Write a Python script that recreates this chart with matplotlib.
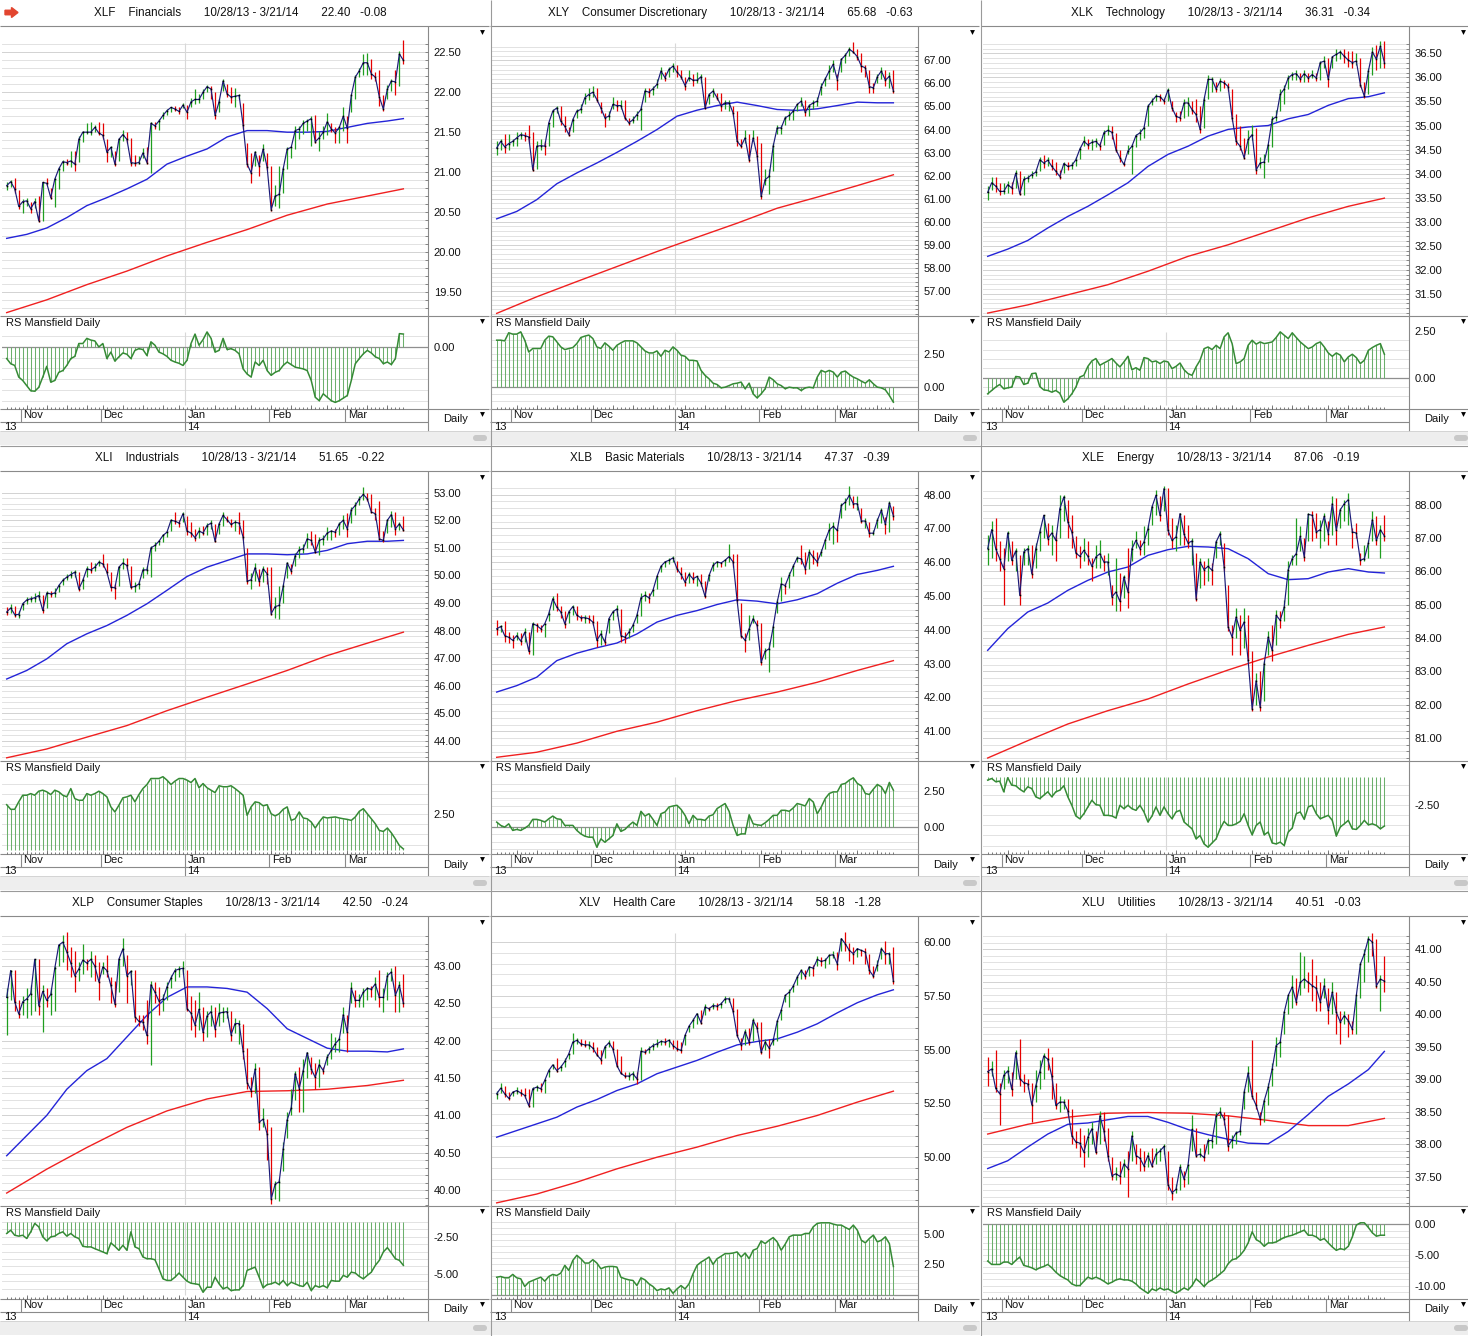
import numpy as np
import pandas as pd
import matplotlib
matplotlib.use("Agg")
import matplotlib.pyplot as plt
from matplotlib.patches import Rectangle, FancyBboxPatch, FancyArrow

plt.rcParams['font.family'] = ['Liberation Sans', 'DejaVu Sans']

# ---------------------------------------------------------------- data
HOLIDAYS = ['2013-11-28', '2013-12-25', '2014-01-01', '2014-01-20', '2014-02-17']
MONTH_LABELS = ['Nov', 'Dec', 'Jan', 'Feb', 'Mar']
YEAR_LABELS = ['13', '14']
MA50_IDX = [0, 5, 10, 15, 20, 25, 30, 35, 40, 45, 50, 55, 60, 65, 70, 75, 80, 85, 90, 95, 99]
MA200_IDX = [0, 10, 20, 30, 40, 50, 60, 70, 80, 90, 99]

# XLF
XLF_CLOSE = [20.83, 20.88, 20.79, 20.57, 20.63, 20.64, 20.54, 20.63, 20.39, 20.87,
             20.86, 20.68, 20.91, 21.04, 21.13, 21.12, 21.14, 21.10, 21.41, 21.50,
             21.50, 21.50, 21.56, 21.49, 21.46, 21.25, 21.31, 21.10, 21.41, 21.47,
             21.41, 21.12, 21.11, 21.12, 21.24, 21.12, 21.61, 21.58, 21.64, 21.71,
             21.77, 21.81, 21.79, 21.76, 21.84, 21.75, 21.88, 21.91, 21.91, 22.00,
             22.07, 22.04, 21.71, 21.88, 22.14, 21.98, 21.94, 21.95, 21.96, 21.59,
             21.10, 20.99, 21.25, 21.08, 21.29, 21.06, 20.53, 20.70, 20.72, 21.04,
             21.29, 21.31, 21.52, 21.54, 21.61, 21.64, 21.67, 21.38, 21.43, 21.50,
             21.63, 21.54, 21.49, 21.56, 21.70, 21.55, 21.96, 22.19, 22.27, 22.37,
             22.37, 22.23, 22.19, 21.94, 21.79, 22.04, 22.14, 22.13, 22.48, 22.40]
XLF_HIGH = [20.88, 20.90, 20.93, 20.78, 20.66, 20.67, 20.62, 20.67, 20.70, 20.88,
            20.92, 20.80, 20.93, 21.06, 21.15, 21.16, 21.26, 21.26, 21.45, 21.52,
            21.61, 21.63, 21.59, 21.63, 21.62, 21.41, 21.33, 21.26, 21.43, 21.53,
            21.50, 21.43, 21.21, 21.20, 21.30, 21.32, 21.63, 21.63, 21.66, 21.75,
            21.79, 21.82, 21.83, 21.81, 21.87, 21.84, 21.93, 22.04, 21.98, 22.04,
            22.09, 22.08, 22.00, 21.92, 22.16, 22.10, 22.07, 22.05, 21.98, 21.86,
            21.37, 21.24, 21.27, 21.22, 21.35, 21.24, 21.08, 20.84, 21.08, 21.06,
            21.32, 21.33, 21.58, 21.58, 21.65, 21.67, 21.70, 21.72, 21.52, 21.58,
            21.74, 21.61, 21.56, 21.58, 21.81, 21.70, 21.98, 22.21, 22.31, 22.48,
            22.49, 22.42, 22.25, 22.28, 21.96, 22.09, 22.16, 22.28, 22.52, 22.65]
XLF_LOW = [20.78, 20.81, 20.74, 20.54, 20.49, 20.58, 20.49, 20.55, 20.37, 20.39,
           20.84, 20.66, 20.56, 20.79, 21.01, 21.09, 21.07, 21.01, 21.13, 21.38,
           21.48, 21.46, 21.50, 21.46, 21.41, 21.13, 21.19, 21.08, 21.14, 21.39,
           21.37, 21.08, 21.08, 21.10, 21.18, 21.10, 20.99, 21.54, 21.53, 21.66,
           21.71, 21.75, 21.76, 21.73, 21.80, 21.66, 21.82, 21.85, 21.86, 21.91,
           22.00, 21.91, 21.66, 21.75, 22.02, 21.94, 21.87, 21.81, 21.92, 21.54,
           21.06, 20.86, 21.08, 20.95, 21.14, 21.03, 20.51, 20.57, 20.55, 20.74,
           21.04, 21.18, 21.29, 21.41, 21.48, 21.52, 21.33, 21.37, 21.27, 21.41,
           21.46, 21.50, 21.37, 21.37, 21.52, 21.37, 21.75, 21.91, 22.19, 22.21,
           22.21, 22.17, 22.14, 21.83, 21.77, 21.91, 22.02, 21.96, 22.08, 22.35]
XLF_MA50 = [20.17, 20.22, 20.30, 20.43, 20.58, 20.68, 20.79, 20.91, 21.10, 21.20, 21.29,
            21.44, 21.52, 21.52, 21.50, 21.50, 21.51, 21.56, 21.61, 21.64, 21.67]
XLF_MA200 = [19.24, 19.40, 19.59, 19.76, 19.95, 20.12, 20.28, 20.46, 20.60, 20.70, 20.79]
XLF_RS = [-0.27, -0.39, -0.43, -0.70, -0.78, -0.90, -1.02, -1.03, -0.94, -0.70,
          -0.45, -0.82, -0.78, -0.59, -0.55, -0.43, -0.27, -0.22, 0.08, 0.08,
          0.20, 0.16, 0.14, 0.00, 0.08, -0.27, -0.12, -0.33, -0.23, -0.14,
          -0.17, -0.27, -0.08, -0.04, -0.06, -0.20, 0.12, 0.04, -0.12, -0.16,
          -0.22, -0.31, -0.35, -0.38, -0.43, -0.31, 0.08, 0.30, 0.04, 0.17,
          0.35, 0.20, -0.12, -0.08, 0.20, -0.06, -0.04, -0.08, -0.16, -0.51,
          -0.63, -0.70, -0.35, -0.43, -0.31, -0.55, -0.66, -0.59, -0.55, -0.43,
          -0.35, -0.41, -0.47, -0.49, -0.51, -0.55, -0.78, -1.17, -1.25, -1.09,
          -1.17, -1.25, -1.29, -1.25, -1.19, -1.13, -0.78, -0.39, -0.27, -0.16,
          -0.08, -0.14, -0.23, -0.27, -0.39, -0.35, -0.41, -0.27, 0.31, 0.30]
XLF_YTICKS = [19.5, 20.0, 20.5, 21.0, 21.5, 22.0, 22.5]
XLF_RSTICKS = [0.0]

# XLY
XLY_CLOSE = [63.20, 63.49, 63.25, 63.39, 63.49, 63.64, 63.78, 63.74, 63.68, 62.26,
             63.28, 63.30, 63.28, 64.29, 64.80, 64.94, 64.36, 64.14, 63.78, 64.43,
             64.80, 64.87, 65.38, 65.52, 65.62, 65.30, 64.94, 64.51, 64.58, 65.09,
             65.04, 65.04, 64.51, 64.29, 64.43, 64.65, 64.87, 65.67, 65.62, 65.77,
             65.96, 66.54, 66.25, 66.61, 66.75, 66.49, 66.29, 65.91, 66.25, 66.14,
             66.14, 66.29, 64.94, 65.52, 65.67, 65.38, 65.04, 65.16, 65.16, 64.72,
             63.49, 63.28, 63.64, 62.70, 63.64, 62.87, 61.10, 61.83, 61.97, 63.28,
             64.07, 64.07, 64.51, 64.61, 64.80, 65.09, 65.23, 64.75, 65.04, 65.16,
             65.23, 65.86, 66.20, 66.54, 66.83, 66.17, 67.04, 67.22, 67.48, 67.36,
             67.16, 66.75, 66.68, 65.86, 65.81, 66.29, 66.54, 66.14, 66.31, 65.68]
XLY_HIGH = [63.5, 63.6, 63.8, 63.8, 63.6, 63.9, 63.9, 63.9, 64.2, 63.9,
            63.5, 63.6, 63.5, 64.3, 64.9, 65.0, 65.0, 64.6, 64.1, 64.5,
            64.9, 65.1, 65.6, 65.8, 65.9, 65.8, 65.2, 64.7, 64.8, 65.4,
            65.3, 65.3, 65.3, 64.5, 64.6, 64.8, 65.0, 65.8, 65.8, 65.9,
            66.2, 66.7, 66.5, 66.7, 66.9, 66.8, 66.6, 66.3, 66.6, 66.4,
            66.5, 66.4, 66.3, 65.6, 65.8, 65.6, 65.6, 65.3, 65.3, 65.0,
            64.8, 63.6, 64.0, 63.8, 64.0, 63.7, 63.4, 62.3, 62.3, 63.4,
            64.2, 64.2, 64.6, 64.8, 64.9, 65.1, 65.4, 65.3, 65.1, 65.3,
            65.4, 66.0, 66.3, 66.8, 67.0, 66.4, 67.1, 67.3, 67.6, 67.8,
            67.5, 67.3, 66.8, 66.6, 66.0, 66.4, 66.7, 66.6, 66.5, 66.6]
XLY_LOW = [62.9, 63.1, 63.0, 63.1, 63.3, 63.3, 63.6, 63.5, 63.4, 62.2,
           62.3, 63.1, 62.9, 63.3, 64.1, 64.7, 64.2, 63.9, 63.7, 63.9,
           64.5, 64.7, 65.1, 65.3, 65.4, 65.2, 64.7, 64.1, 64.4, 64.9,
           64.8, 64.9, 64.4, 64.2, 64.3, 64.4, 64.0, 65.2, 65.4, 65.5,
           65.8, 66.2, 66.1, 66.3, 66.5, 66.3, 66.2, 65.7, 66.1, 65.9,
           66.0, 66.0, 64.9, 65.1, 65.4, 65.3, 64.8, 64.9, 64.8, 64.6,
           63.3, 63.2, 63.4, 62.6, 63.5, 62.7, 61.0, 61.6, 61.2, 62.2,
           63.8, 63.8, 64.2, 64.4, 64.4, 64.8, 65.0, 64.6, 64.6, 64.9,
           65.0, 65.5, 65.9, 66.2, 66.5, 65.7, 66.5, 66.9, 67.2, 67.3,
           67.0, 66.5, 66.3, 65.6, 65.6, 66.0, 66.2, 65.9, 65.8, 65.6]
XLY_MA50 = [60.13, 60.45, 60.96, 61.65, 62.12, 62.55, 63.01, 63.49, 64.00, 64.58, 64.84,
            65.04, 65.19, 65.04, 64.87, 64.83, 64.90, 65.04, 65.19, 65.16, 65.16]
XLY_MA200 = [56.03, 56.75, 57.41, 58.06, 58.71, 59.33, 59.94, 60.59, 61.07, 61.57, 62.04]
XLY_RS = [3.50, 3.50, 3.45, 4.05, 3.95, 3.95, 4.12, 3.50, 2.62, 2.88,
          2.88, 2.88, 3.50, 3.80, 3.75, 3.38, 3.00, 2.80, 2.88, 2.95,
          3.25, 3.70, 3.80, 3.88, 3.62, 3.00, 2.88, 3.30, 3.05, 2.75,
          3.12, 3.30, 3.45, 3.45, 3.45, 3.30, 3.00, 2.70, 2.55, 2.55,
          2.70, 2.30, 2.75, 2.62, 3.00, 2.75, 2.38, 2.30, 2.00, 2.00,
          1.95, 1.25, 0.88, 0.62, 0.30, 0.20, -0.05, 0.00, 0.12, 0.25,
          0.30, 0.38, -0.12, 0.30, -0.50, -0.80, -0.50, -0.12, 0.75, 0.55,
          0.25, 0.12, -0.12, 0.00, -0.05, -0.05, -0.25, -0.05, 0.00, -0.05,
          0.75, 1.25, 1.12, 1.25, 1.12, 0.75, 1.12, 1.20, 0.95, 0.75,
          0.62, 0.45, 0.30, 0.55, 0.25, 0.00, -0.05, -0.20, -0.62, -1.12]
XLY_YTICKS = [57, 58, 59, 60, 61, 62, 63, 64, 65, 66, 67]
XLY_RSTICKS = [0.0, 2.5]

# XLK
XLK_CLOSE = [33.61, 33.81, 33.74, 33.63, 33.63, 33.77, 33.70, 34.01, 33.58, 33.88,
             33.91, 33.98, 34.03, 34.29, 34.22, 34.28, 34.15, 34.05, 33.94, 34.21,
             34.15, 34.17, 34.29, 34.51, 34.67, 34.60, 34.65, 34.67, 34.58, 34.85,
             34.90, 34.86, 34.50, 34.33, 34.19, 34.47, 34.57, 34.79, 34.85, 34.95,
             35.40, 35.51, 35.61, 35.60, 35.51, 35.74, 35.37, 35.19, 35.16, 35.47,
             35.47, 35.33, 35.23, 34.92, 35.54, 35.96, 35.96, 35.76, 35.92, 35.89,
             35.81, 35.16, 34.67, 34.57, 34.33, 34.71, 34.81, 34.08, 34.22, 34.24,
             34.60, 35.13, 35.18, 35.65, 35.76, 35.99, 36.06, 36.08, 35.97, 36.08,
             35.99, 36.06, 35.99, 36.31, 36.34, 35.96, 36.43, 36.48, 36.53, 36.44,
             36.36, 36.31, 36.34, 35.85, 35.61, 36.13, 36.53, 36.38, 36.65, 36.31]
XLK_HIGH = [33.75, 33.92, 33.92, 33.80, 33.80, 33.85, 33.82, 34.08, 34.05, 33.95,
            33.98, 34.05, 34.10, 34.35, 34.38, 34.35, 34.30, 34.25, 34.08, 34.25,
            34.25, 34.25, 34.35, 34.55, 34.78, 34.72, 34.72, 34.75, 34.65, 34.90,
            35.02, 35.00, 34.85, 34.50, 34.25, 34.60, 34.62, 34.82, 34.92, 35.00,
            35.45, 35.58, 35.65, 35.65, 35.58, 35.78, 35.50, 35.28, 35.30, 35.55,
            35.60, 35.50, 35.55, 35.40, 35.60, 36.05, 36.00, 35.90, 35.98, 35.95,
            35.88, 35.75, 35.25, 35.00, 34.75, 34.90, 35.02, 34.95, 34.35, 34.40,
            34.62, 35.20, 35.32, 35.75, 35.85, 36.05, 36.12, 36.15, 36.10, 36.15,
            36.10, 36.15, 36.10, 36.35, 36.45, 36.40, 36.45, 36.60, 36.58, 36.60,
            36.55, 36.55, 36.50, 36.40, 35.90, 36.20, 36.63, 36.68, 36.75, 36.75]
XLK_LOW = [33.45, 33.65, 33.62, 33.55, 33.58, 33.60, 33.58, 33.70, 33.55, 33.55,
           33.82, 33.90, 33.95, 34.05, 34.12, 34.15, 34.08, 33.98, 33.88, 34.02,
           34.08, 34.10, 34.15, 34.30, 34.58, 34.52, 34.50, 34.55, 34.50, 34.60,
           34.80, 34.72, 34.45, 34.25, 34.15, 34.40, 34.00, 34.55, 34.70, 34.75,
           35.00, 35.42, 35.52, 35.52, 35.45, 35.52, 35.30, 35.08, 35.10, 35.15,
           35.20, 35.25, 35.08, 34.85, 34.95, 35.55, 35.70, 35.70, 35.72, 35.78,
           35.72, 35.10, 34.60, 34.50, 34.30, 34.40, 34.70, 34.00, 34.12, 33.90,
           34.25, 34.55, 35.10, 35.30, 35.45, 35.75, 35.95, 35.95, 35.90, 35.90,
           35.90, 35.98, 35.92, 35.95, 36.20, 35.80, 36.20, 36.35, 36.38, 36.30,
           36.22, 36.20, 36.25, 35.80, 35.58, 35.65, 36.05, 36.15, 36.20, 36.20]
XLK_MA50 = [32.28, 32.43, 32.61, 32.87, 33.11, 33.32, 33.56, 33.81, 34.15, 34.40, 34.57,
            34.78, 34.92, 34.97, 35.00, 35.14, 35.23, 35.42, 35.56, 35.60, 35.68]
XLK_MA200 = [31.10, 31.27, 31.48, 31.69, 31.97, 32.28, 32.52, 32.80, 33.08, 33.32, 33.49]
XLK_RS = [-0.86, -0.68, -0.50, -0.36, -0.59, -0.54, -0.50, 0.07, 0.04, -0.36,
          -0.29, 0.22, 0.25, -0.47, -0.65, -0.68, -0.77, -0.68, -0.83, -1.31,
          -1.13, -0.86, -0.50, 0.04, 0.13, 0.61, 0.90, 1.03, 0.67, 0.79,
          0.90, 1.03, 0.79, 0.58, 0.85, 1.15, 0.43, 0.54, 0.40, 1.08,
          1.03, 0.85, 0.90, 0.76, 0.90, 0.85, 0.49, 0.61, 0.79, 0.43,
          0.22, 0.13, 0.58, 0.94, 1.56, 1.65, 1.51, 1.74, 1.56, 2.19,
          2.41, 1.83, 0.76, 0.85, 1.03, 1.74, 2.01, 1.80, 1.92, 1.83,
          1.87, 1.92, 2.16, 2.46, 2.28, 2.10, 2.41, 2.16, 1.92, 1.74,
          1.56, 1.65, 1.83, 1.92, 1.65, 1.33, 1.15, 1.33, 1.21, 0.85,
          1.12, 1.26, 1.08, 0.76, 0.94, 1.47, 1.62, 1.74, 1.83, 1.26]
XLK_YTICKS = [31.5, 32.0, 32.5, 33.0, 33.5, 34.0, 34.5, 35.0, 35.5, 36.0, 36.5]
XLK_RSTICKS = [0.0, 2.5]

# XLI
XLI_CLOSE = [48.67, 48.82, 48.58, 48.58, 48.97, 49.11, 49.15, 49.19, 49.27, 48.73,
             49.36, 49.33, 49.36, 49.63, 49.82, 49.94, 50.03, 50.12, 49.51, 49.82,
             50.24, 50.20, 50.30, 50.48, 50.42, 50.12, 49.57, 49.55, 50.30, 50.45,
             50.36, 49.57, 49.60, 49.69, 50.20, 50.20, 51.00, 51.09, 51.24, 51.45,
             51.57, 52.00, 51.97, 51.90, 52.24, 51.61, 51.54, 51.37, 51.61, 51.54,
             51.81, 51.90, 51.24, 51.87, 52.18, 52.02, 51.85, 51.93, 51.90, 51.39,
             49.79, 49.84, 50.28, 49.79, 50.24, 50.06, 48.61, 48.87, 48.91, 49.60,
             50.45, 50.16, 50.72, 50.93, 50.97, 51.33, 51.27, 50.85, 51.27, 51.33,
             51.54, 51.61, 51.57, 51.87, 52.00, 51.69, 52.38, 52.54, 52.78, 52.94,
             52.78, 52.30, 52.24, 51.33, 51.27, 52.00, 52.21, 51.69, 51.87, 51.65]
XLI_HIGH = [48.85, 48.95, 48.90, 48.70, 49.05, 49.20, 49.25, 49.35, 49.45, 49.30,
            49.45, 49.45, 49.55, 49.70, 49.90, 50.05, 50.15, 50.18, 50.12, 49.90,
            50.35, 50.50, 50.45, 50.55, 50.78, 50.45, 50.12, 49.70, 50.35, 50.62,
            50.65, 50.35, 49.75, 49.80, 50.30, 50.35, 51.05, 51.20, 51.30, 51.50,
            51.62, 52.05, 52.30, 52.00, 52.30, 52.15, 51.95, 51.70, 51.75, 51.80,
            51.92, 52.00, 51.85, 51.95, 52.30, 52.15, 52.05, 52.00, 52.30, 52.00,
            51.00, 50.10, 50.45, 50.25, 50.35, 50.30, 50.30, 49.20, 49.60, 49.70,
            50.50, 50.40, 50.80, 51.05, 51.15, 51.55, 51.60, 51.50, 51.40, 51.45,
            51.75, 51.65, 51.70, 51.95, 52.20, 52.25, 52.50, 52.65, 52.90, 53.20,
            53.00, 52.95, 52.45, 52.70, 51.60, 52.05, 52.35, 52.30, 51.95, 52.15]
XLI_LOW = [48.55, 48.65, 48.50, 48.45, 48.75, 48.95, 49.05, 49.05, 49.10, 48.65,
           48.80, 49.20, 49.22, 49.40, 49.65, 49.82, 49.90, 49.95, 49.45, 49.50,
           49.95, 50.10, 50.15, 50.35, 50.30, 50.05, 49.45, 49.15, 49.60, 50.25,
           50.25, 49.50, 49.40, 49.50, 49.90, 50.05, 49.95, 50.90, 51.10, 51.20,
           51.40, 51.60, 51.85, 51.75, 51.95, 51.45, 51.40, 51.25, 51.35, 51.45,
           51.45, 51.70, 51.20, 51.50, 51.80, 51.95, 51.75, 51.60, 51.50, 51.30,
           49.70, 49.50, 49.80, 49.60, 49.75, 49.70, 48.55, 48.45, 48.40, 49.00,
           49.90, 50.05, 50.35, 50.65, 50.80, 51.00, 51.10, 50.80, 50.75, 51.10,
           51.30, 51.30, 51.40, 51.45, 51.70, 51.40, 51.90, 52.20, 52.55, 52.75,
           52.70, 52.25, 52.00, 51.30, 51.20, 51.55, 51.75, 51.45, 51.65, 51.60]
XLI_MA50 = [46.24, 46.55, 46.97, 47.52, 47.88, 48.18, 48.55, 48.97, 49.46, 49.96, 50.30,
            50.54, 50.78, 50.78, 50.75, 50.78, 50.91, 51.15, 51.24, 51.24, 51.27]
XLI_MA200 = [43.38, 43.70, 44.13, 44.55, 45.09, 45.58, 46.06, 46.55, 47.09, 47.54, 47.94]
XLI_RS = [2.98, 2.75, 2.75, 3.12, 3.45, 3.45, 3.53, 3.45, 3.65, 3.70,
          3.62, 3.48, 3.70, 3.62, 3.45, 3.37, 3.78, 3.28, 3.20, 3.20,
          3.53, 3.45, 3.53, 3.65, 3.53, 3.37, 2.87, 2.62, 2.95, 3.32,
          3.37, 3.45, 3.12, 3.48, 3.78, 3.98, 4.28, 4.28, 4.28, 4.37,
          4.20, 3.98, 4.15, 4.28, 4.28, 4.20, 4.08, 4.28, 3.82, 4.03,
          3.82, 3.70, 3.58, 3.92, 3.87, 3.87, 3.92, 3.78, 3.62, 3.45,
          2.45, 2.87, 3.12, 3.08, 2.92, 2.98, 2.53, 2.42, 2.53, 2.75,
          2.87, 2.20, 2.28, 2.62, 2.32, 2.28, 2.12, 1.82, 2.12, 2.37,
          2.32, 2.35, 2.37, 2.32, 2.28, 2.25, 2.20, 2.37, 2.65, 2.78,
          2.53, 2.28, 2.03, 1.70, 1.65, 1.82, 1.58, 1.28, 0.95, 0.78]
XLI_YTICKS = [44, 45, 46, 47, 48, 49, 50, 51, 52, 53]
XLI_RSTICKS = [2.5]

# XLB
XLB_CLOSE = [44.03, 44.10, 43.83, 43.78, 43.69, 43.83, 43.67, 43.93, 43.37, 44.18,
             44.13, 44.03, 44.18, 44.48, 44.92, 44.67, 44.53, 44.18, 44.53, 44.69,
             44.43, 44.36, 44.36, 44.33, 44.23, 43.69, 43.88, 43.64, 44.33, 44.53,
             44.62, 43.83, 43.78, 43.93, 44.13, 44.43, 44.95, 45.02, 44.95, 45.17,
             45.58, 45.88, 46.01, 46.06, 46.13, 45.81, 45.64, 45.41, 45.64, 45.51,
             45.58, 45.38, 44.99, 45.61, 45.91, 46.01, 45.98, 46.06, 46.17, 46.01,
             44.87, 43.83, 43.69, 44.03, 44.33, 44.13, 43.04, 43.37, 43.44, 44.08,
             44.82, 45.36, 45.31, 45.61, 45.88, 46.13, 46.10, 45.81, 46.30, 46.15,
             46.01, 46.30, 46.65, 46.96, 47.06, 46.94, 47.68, 47.78, 47.98, 47.73,
             47.73, 47.22, 47.22, 46.86, 46.86, 47.24, 47.54, 47.12, 47.76, 47.37]
XLB_HIGH = [44.30, 44.15, 44.25, 43.95, 43.85, 43.95, 43.90, 44.05, 43.95, 44.22,
            44.20, 44.15, 44.20, 44.55, 45.00, 45.10, 44.70, 44.55, 44.60, 44.75,
            44.72, 44.45, 44.45, 44.45, 44.45, 44.25, 44.00, 43.75, 44.35, 44.60,
            44.75, 44.62, 43.95, 44.05, 44.20, 44.50, 45.10, 45.15, 45.08, 45.20,
            45.60, 45.92, 46.05, 46.12, 46.20, 46.05, 45.85, 45.72, 45.70, 45.72,
            45.60, 45.65, 45.45, 45.65, 46.00, 46.05, 46.02, 46.10, 46.55, 46.25,
            46.25, 44.80, 43.90, 44.45, 44.45, 44.30, 44.20, 43.45, 43.65, 44.15,
            44.90, 45.55, 45.40, 45.70, 45.95, 46.20, 46.50, 46.30, 46.40, 46.35,
            46.30, 46.40, 46.70, 47.15, 47.20, 47.00, 47.75, 47.90, 48.25, 47.95,
            47.95, 47.60, 47.30, 47.20, 46.95, 47.30, 47.60, 47.35, 47.80, 47.65]
XLB_LOW = [43.85, 43.95, 43.65, 43.60, 43.45, 43.70, 43.55, 43.65, 43.30, 43.25,
           43.95, 43.95, 43.80, 44.25, 44.60, 44.55, 44.35, 44.05, 44.20, 44.45,
           44.30, 44.25, 44.20, 44.20, 44.15, 43.50, 43.55, 43.55, 43.90, 44.30,
           44.40, 43.65, 43.60, 43.75, 43.95, 44.20, 44.40, 44.85, 44.80, 45.00,
           45.20, 45.70, 45.85, 45.95, 46.00, 45.70, 45.50, 45.30, 45.40, 45.40,
           45.30, 45.30, 44.95, 45.45, 45.75, 45.85, 45.85, 45.90, 46.00, 45.85,
           44.80, 43.75, 43.35, 43.70, 44.20, 44.00, 42.95, 43.15, 42.75, 43.50,
           44.50, 44.85, 45.05, 45.25, 45.60, 46.00, 45.95, 45.65, 45.80, 45.95,
           45.90, 46.20, 46.40, 46.65, 46.55, 46.60, 47.30, 47.55, 47.70, 47.60,
           47.55, 47.15, 47.00, 46.75, 46.80, 47.00, 47.15, 46.85, 46.90, 47.25]
XLB_MA50 = [42.16, 42.35, 42.60, 43.09, 43.31, 43.47, 43.61, 43.88, 44.23, 44.43, 44.57,
            44.75, 44.89, 44.85, 44.77, 44.89, 45.07, 45.38, 45.64, 45.76, 45.88]
XLB_MA200 = [40.23, 40.38, 40.65, 41.00, 41.27, 41.61, 41.91, 42.16, 42.45, 42.80, 43.09]
XLB_RS = [0.35, 0.12, 0.00, 0.23, -0.23, -0.16, -0.23, -0.07, 0.12, 0.54,
          0.54, 0.47, 0.35, 0.58, 0.77, 0.58, 0.54, 0.12, 0.12, 0.12,
          -0.23, -0.47, -0.63, -0.70, -0.70, -1.40, -0.82, -1.05, -0.82, -0.58,
          0.23, -0.30, -0.16, 0.12, 0.35, 0.12, 1.10, 0.77, 0.93, 0.54,
          0.12, 0.93, 1.05, 1.40, 1.47, 1.52, 1.24, 0.82, 0.23, 0.82,
          0.54, 0.54, 0.47, 0.77, 0.86, 1.29, 1.47, 1.64, 1.10, 0.12,
          -0.58, -0.47, -0.47, 0.86, 0.23, 0.16, 0.12, 0.30, 0.54, 0.82,
          0.82, 1.17, 1.17, 1.10, 1.33, 1.64, 1.57, 1.47, 1.99, 1.75,
          0.93, 1.40, 1.99, 2.34, 2.45, 2.45, 2.97, 3.04, 3.27, 3.43,
          3.04, 2.87, 2.34, 2.27, 2.64, 2.97, 2.80, 2.34, 3.11, 2.57]
XLB_YTICKS = [41, 42, 43, 44, 45, 46, 47, 48]
XLB_RSTICKS = [0.0, 2.5]

# XLE
XLE_CLOSE = [86.68, 87.25, 86.68, 86.38, 86.08, 87.15, 86.33, 86.61, 85.28, 86.58,
             86.68, 85.93, 86.68, 87.18, 87.68, 86.98, 87.15, 86.93, 87.88, 88.23,
             87.48, 87.18, 86.55, 86.45, 86.63, 86.45, 86.15, 86.43, 86.53, 86.28,
             86.28, 85.23, 85.38, 85.10, 85.83, 85.38, 86.68, 86.93, 86.68, 86.88,
             87.28, 87.93, 88.28, 87.68, 88.48, 87.23, 86.93, 87.03, 87.73, 87.11,
             86.85, 86.91, 85.18, 86.28, 86.05, 86.15, 86.03, 86.88, 87.13, 86.13,
             84.33, 84.03, 84.63, 84.23, 84.48, 83.33, 81.87, 82.72, 81.92, 83.23,
             84.03, 83.63, 84.68, 84.53, 84.93, 86.05, 86.38, 86.53, 87.05, 86.43,
             87.71, 87.68, 87.18, 87.25, 87.65, 87.13, 88.03, 87.23, 87.85, 88.03,
             88.15, 87.18, 87.15, 86.33, 86.38, 86.85, 87.55, 86.93, 87.25, 87.06]
XLE_HIGH = [87.10, 87.50, 87.60, 86.90, 86.70, 87.20, 86.90, 86.70, 86.50, 86.70,
            86.80, 86.80, 86.85, 87.30, 87.70, 87.45, 87.40, 87.15, 88.30, 88.30,
            88.15, 87.70, 87.05, 86.75, 87.00, 86.90, 86.40, 86.80, 86.95, 86.50,
            86.55, 85.60, 86.40, 85.95, 85.90, 86.70, 86.95, 87.20, 86.95, 87.35,
            87.40, 88.00, 88.45, 88.25, 88.55, 88.50, 87.60, 87.40, 87.75, 87.70,
            87.40, 87.00, 86.55, 86.40, 86.30, 86.40, 86.25, 86.95, 87.20, 86.85,
            85.60, 84.40, 84.90, 84.70, 84.90, 84.70, 83.60, 82.95, 83.00, 83.30,
            84.20, 84.40, 84.85, 84.80, 85.15, 86.30, 86.50, 87.60, 87.35, 87.00,
            87.75, 87.80, 87.75, 87.55, 87.75, 87.50, 88.25, 88.20, 87.90, 88.15,
            88.35, 87.30, 87.45, 86.55, 86.80, 86.95, 87.80, 87.65, 87.40, 87.70]
XLE_LOW = [86.20, 86.40, 86.30, 86.00, 85.00, 86.30, 86.20, 86.00, 85.00, 86.20,
           86.20, 85.80, 86.10, 86.60, 87.00, 86.80, 86.50, 86.30, 87.00, 87.50,
           87.00, 86.70, 86.40, 86.10, 86.30, 86.20, 85.70, 86.10, 86.10, 86.00,
           85.90, 85.00, 84.80, 84.80, 85.20, 84.90, 86.30, 86.70, 86.50, 86.50,
           86.80, 87.40, 87.70, 87.50, 87.80, 87.10, 86.70, 86.60, 86.80, 86.80,
           86.70, 86.20, 85.10, 85.50, 85.60, 85.70, 85.60, 86.40, 86.80, 86.00,
           84.20, 83.50, 84.00, 83.50, 83.70, 83.30, 81.80, 82.00, 81.80, 82.10,
           83.50, 83.30, 83.80, 84.30, 84.50, 85.00, 86.20, 86.20, 86.60, 86.30,
           86.90, 86.90, 87.00, 86.70, 86.90, 86.80, 87.10, 86.80, 87.30, 87.50,
           87.40, 86.70, 87.00, 86.20, 86.30, 86.40, 86.90, 86.80, 86.40, 86.90]
XLE_MA50 = [83.63, 84.28, 84.78, 85.05, 85.43, 85.73, 85.98, 86.13, 86.48, 86.65, 86.75,
            86.73, 86.68, 86.38, 85.93, 85.75, 85.78, 85.98, 86.08, 85.98, 85.95]
XLE_MA200 = [80.40, 80.92, 81.42, 81.82, 82.17, 82.62, 83.04, 83.43, 83.78, 84.11, 84.33]
XLE_RS = [-1.25, -1.17, -1.33, -1.30, -1.83, -1.13, -1.50, -1.53, -1.70, -1.83,
          -1.58, -1.67, -2.08, -2.17, -2.00, -1.83, -2.08, -1.83, -1.75, -1.53,
          -2.08, -2.50, -3.03, -3.17, -2.92, -2.58, -2.25, -2.47, -2.50, -3.00,
          -3.00, -3.03, -3.13, -2.50, -2.67, -2.50, -2.67, -2.75, -2.50, -2.83,
          -3.33, -3.03, -2.58, -3.00, -2.58, -2.92, -3.17, -2.83, -2.75, -3.33,
          -3.50, -3.67, -4.17, -4.00, -4.42, -4.58, -4.37, -4.17, -3.67, -3.30,
          -3.50, -3.50, -3.42, -3.30, -2.92, -3.50, -3.97, -3.50, -3.33, -3.97,
          -3.83, -4.37, -4.42, -4.33, -4.50, -3.83, -3.63, -2.92, -2.83, -3.20,
          -2.58, -2.50, -2.92, -3.17, -3.08, -3.00, -3.25, -4.03, -3.58, -3.42,
          -3.25, -3.67, -3.70, -3.50, -3.25, -3.47, -3.42, -3.50, -3.67, -3.53]
XLE_YTICKS = [81, 82, 83, 84, 85, 86, 87, 88]
XLE_RSTICKS = [-2.5]

# XLP
XLP_CLOSE = [42.58, 42.94, 42.52, 42.36, 42.52, 42.56, 42.63, 43.09, 42.47, 42.66,
             42.54, 42.62, 42.97, 43.28, 43.32, 43.19, 43.04, 42.87, 42.96, 43.08,
             43.04, 43.09, 43.00, 42.79, 42.99, 42.94, 42.74, 42.49, 43.09, 43.23,
             42.87, 42.93, 42.32, 42.26, 42.25, 42.07, 42.75, 42.65, 42.53, 42.56,
             42.72, 42.84, 42.94, 42.96, 42.97, 42.43, 42.37, 42.21, 42.42, 42.11,
             42.33, 42.39, 42.16, 42.37, 42.38, 42.39, 42.08, 42.23, 42.23, 41.86,
             41.44, 41.33, 41.62, 40.91, 40.95, 40.75, 39.88, 40.08, 40.11, 40.55,
             40.94, 41.10, 41.56, 41.36, 41.60, 41.84, 41.62, 41.51, 41.68, 41.60,
             41.78, 41.87, 41.96, 42.02, 42.35, 42.11, 42.70, 42.54, 42.54, 42.65,
             42.70, 42.69, 42.76, 42.58, 42.58, 42.87, 42.92, 42.61, 42.74, 42.50]
XLP_HIGH = [42.70, 42.95, 42.95, 42.55, 42.60, 42.70, 42.75, 43.10, 43.10, 42.75,
            42.70, 42.70, 43.00, 43.30, 43.42, 43.45, 43.25, 43.20, 43.05, 43.30,
            43.10, 43.20, 43.15, 43.05, 43.05, 43.15, 42.85, 42.80, 43.10, 43.38,
            43.15, 42.95, 42.95, 42.35, 42.35, 42.55, 42.80, 42.78, 42.72, 42.62,
            42.78, 42.88, 42.98, 43.00, 43.07, 42.95, 42.60, 42.55, 42.65, 42.45,
            42.40, 42.48, 42.45, 42.50, 42.45, 42.45, 42.40, 42.30, 42.28, 42.22,
            41.90, 41.52, 41.70, 41.65, 41.10, 40.95, 40.85, 40.12, 40.15, 40.65,
            41.05, 41.35, 41.60, 41.65, 41.75, 41.85, 41.78, 41.70, 41.75, 41.65,
            41.82, 42.10, 42.05, 42.05, 42.45, 42.35, 42.78, 42.68, 42.62, 42.70,
            42.72, 42.73, 42.85, 42.95, 42.70, 42.92, 42.98, 43.00, 42.80, 42.90]
XLP_LOW = [42.08, 42.55, 42.40, 42.30, 42.35, 42.30, 42.35, 42.40, 42.35, 42.12,
           42.45, 42.35, 42.40, 43.00, 43.05, 42.95, 42.85, 42.65, 42.80, 42.90,
           42.95, 42.85, 42.80, 42.55, 42.90, 42.85, 42.50, 42.45, 42.65, 43.00,
           42.50, 42.75, 42.25, 42.20, 42.15, 41.95, 41.68, 42.50, 42.35, 42.40,
           42.55, 42.70, 42.80, 42.85, 42.90, 42.40, 42.15, 42.05, 42.15, 42.00,
           42.05, 42.20, 42.05, 42.20, 42.25, 42.30, 42.00, 42.10, 41.95, 41.75,
           41.35, 41.25, 41.30, 40.80, 40.85, 40.40, 39.82, 39.88, 39.85, 40.25,
           40.70, 41.00, 41.20, 41.05, 41.05, 41.50, 41.55, 41.35, 41.38, 41.55,
           41.68, 41.75, 41.85, 41.85, 42.10, 41.85, 42.50, 42.45, 42.45, 42.45,
           42.55, 42.58, 42.55, 42.45, 42.38, 42.55, 42.80, 42.38, 42.38, 42.45]
XLP_MA50 = [40.46, 40.73, 41.00, 41.35, 41.60, 41.76, 42.05, 42.34, 42.58, 42.72, 42.72,
            42.70, 42.65, 42.43, 42.16, 42.03, 41.90, 41.86, 41.86, 41.85, 41.89]
XLP_MA200 = [39.96, 40.28, 40.57, 40.84, 41.06, 41.22, 41.32, 41.33, 41.35, 41.40, 41.47]
XLP_RS = [-2.27, -2.05, -2.39, -2.45, -2.39, -2.61, -2.16, -1.59, -1.82, -2.50,
          -2.77, -2.50, -2.45, -2.27, -2.16, -2.45, -2.27, -2.50, -2.61, -3.14,
          -3.18, -3.18, -3.30, -3.41, -3.52, -3.64, -2.91, -3.14, -3.41, -3.07,
          -3.41, -2.16, -3.18, -3.30, -3.86, -3.98, -3.98, -4.05, -4.66, -5.34,
          -5.45, -5.45, -5.23, -4.95, -5.23, -5.50, -5.64, -5.68, -5.73, -6.25,
          -5.91, -5.91, -5.23, -5.68, -6.02, -5.91, -6.14, -6.09, -6.09, -5.80,
          -4.77, -4.66, -4.55, -5.23, -5.95, -5.73, -5.68, -5.57, -5.73, -5.45,
          -5.80, -5.57, -5.68, -5.80, -5.86, -5.57, -6.14, -5.80, -5.91, -5.80,
          -5.95, -5.45, -5.50, -5.50, -5.11, -5.23, -4.89, -4.95, -5.18, -5.34,
          -5.11, -4.89, -4.43, -4.09, -3.52, -3.23, -3.59, -3.98, -4.09, -4.43]
XLP_YTICKS = [40.0, 40.5, 41.0, 41.5, 42.0, 42.5, 43.0]
XLP_RSTICKS = [-5.0, -2.5]

# XLV
XLV_CLOSE = [52.95, 53.21, 52.95, 52.74, 53.02, 53.10, 52.99, 52.87, 52.40, 53.18,
             53.26, 53.18, 53.57, 54.03, 54.29, 54.03, 54.19, 54.45, 54.81, 55.35,
             55.43, 55.27, 55.22, 55.22, 55.07, 54.76, 54.54, 55.12, 55.32, 55.04,
             54.26, 53.90, 53.77, 53.77, 53.88, 53.64, 54.92, 54.88, 55.04, 55.19,
             55.27, 55.38, 55.35, 55.43, 55.19, 55.04, 54.96, 55.66, 56.09, 56.36,
             56.67, 56.25, 56.98, 56.90, 57.05, 57.02, 57.13, 57.36, 57.36, 56.78,
             55.66, 55.22, 55.84, 55.35, 56.36, 56.00, 54.88, 55.35, 55.07, 55.43,
             56.31, 56.82, 57.52, 57.67, 57.95, 58.37, 58.68, 58.42, 58.84, 58.79,
             59.19, 59.10, 59.15, 59.38, 59.41, 58.99, 60.16, 59.92, 59.61, 59.46,
             59.69, 59.61, 59.53, 58.68, 58.42, 58.95, 59.69, 59.46, 59.46, 58.18]
XLV_HIGH = [53.10, 53.45, 53.30, 53.05, 53.10, 53.25, 53.15, 53.20, 53.15, 53.25,
            53.35, 53.45, 53.65, 54.10, 54.35, 54.60, 54.30, 54.60, 54.85, 55.75,
            55.55, 55.50, 55.45, 55.40, 55.35, 55.10, 55.00, 55.20, 55.45, 55.40,
            55.05, 54.70, 53.95, 53.95, 54.00, 53.95, 55.10, 55.05, 55.15, 55.30,
            55.50, 55.45, 55.55, 55.50, 55.45, 55.45, 55.35, 55.70, 56.10, 56.45,
            56.70, 56.85, 57.10, 57.00, 57.15, 57.15, 57.20, 57.50, 57.45, 57.40,
            56.90, 55.55, 55.95, 56.00, 56.45, 56.30, 56.30, 55.50, 55.50, 55.55,
            56.40, 56.90, 57.55, 57.80, 58.05, 58.45, 58.75, 58.70, 58.90, 58.95,
            59.35, 59.30, 59.25, 59.45, 59.60, 59.55, 60.20, 60.45, 59.95, 59.75,
            59.70, 59.65, 59.70, 59.45, 58.90, 59.15, 59.75, 60.05, 59.55, 59.75]
XLV_LOW = [52.70, 53.00, 52.80, 52.65, 52.85, 52.95, 52.85, 52.75, 52.35, 52.35,
           53.10, 53.05, 53.00, 53.75, 54.10, 53.95, 54.00, 54.20, 54.55, 54.80,
           55.25, 55.15, 55.10, 55.05, 54.90, 54.70, 54.35, 54.60, 55.10, 54.90,
           54.20, 53.85, 53.70, 53.60, 53.60, 53.40, 53.60, 54.80, 54.85, 55.00,
           55.10, 55.20, 55.20, 55.10, 55.05, 54.95, 54.85, 55.20, 55.80, 56.00,
           56.20, 56.20, 56.60, 56.80, 56.90, 56.85, 56.95, 57.15, 57.20, 56.70,
           55.60, 55.00, 55.20, 55.20, 55.40, 55.80, 54.80, 55.00, 54.60, 55.20,
           55.40, 56.40, 57.20, 57.00, 57.70, 58.00, 58.30, 58.30, 58.40, 58.40,
           58.90, 58.90, 58.80, 59.00, 59.25, 58.70, 59.60, 59.60, 59.10, 59.00,
           59.30, 59.35, 59.00, 58.50, 58.35, 58.65, 59.20, 59.00, 59.00, 58.05]
XLV_MA50 = [50.93, 51.24, 51.55, 51.86, 52.33, 52.68, 53.10, 53.41, 53.88, 54.19, 54.50,
            54.88, 55.22, 55.38, 55.50, 55.81, 56.20, 56.71, 57.18, 57.55, 57.78]
XLV_MA200 = [47.88, 48.29, 48.84, 49.46, 50.00, 50.47, 51.01, 51.44, 51.94, 52.56, 53.07]
XLV_RS = [1.44, 1.50, 1.39, 1.39, 1.67, 1.39, 1.31, 0.67, 1.03, 1.17,
          1.31, 1.44, 1.11, 1.50, 1.67, 1.58, 1.78, 2.42, 2.00, 2.83,
          3.25, 2.97, 2.61, 2.61, 2.89, 2.61, 2.14, 2.28, 2.33, 2.33,
          2.28, 1.44, 1.31, 1.22, 1.17, 0.75, 1.39, 1.22, 0.89, 0.67,
          0.33, 0.47, 0.39, 0.56, 0.11, 0.47, 0.75, 0.47, 0.89, 1.72,
          2.42, 2.69, 2.89, 3.11, 2.50, 2.97, 3.17, 3.39, 3.39, 3.44,
          3.53, 3.11, 3.44, 2.97, 3.67, 3.81, 4.44, 4.22, 4.50, 4.72,
          4.36, 3.67, 4.17, 4.78, 4.92, 4.92, 4.92, 5.06, 5.06, 5.61,
          5.89, 5.94, 5.94, 5.94, 5.83, 5.75, 5.75, 5.56, 5.39, 5.75,
          5.33, 4.50, 4.28, 4.64, 4.92, 4.36, 4.50, 4.78, 4.22, 2.33]
XLV_YTICKS = [50.0, 52.5, 55.0, 57.5, 60.0]
XLV_RSTICKS = [2.5, 5.0]

# XLU
XLU_CLOSE = [39.12, 39.16, 38.86, 38.78, 39.06, 39.13, 38.85, 39.41, 39.01, 38.95,
             38.93, 38.61, 38.90, 39.12, 39.36, 39.31, 39.05, 38.60, 38.65, 38.65,
             38.52, 38.13, 38.04, 38.02, 37.88, 38.11, 38.24, 37.88, 38.44, 38.21,
             37.83, 37.52, 37.55, 37.51, 37.70, 37.63, 38.13, 37.83, 37.79, 37.67,
             37.83, 37.67, 37.85, 37.90, 37.97, 37.38, 37.26, 37.31, 37.65, 37.47,
             37.68, 38.23, 37.83, 37.85, 37.80, 38.06, 38.06, 38.44, 38.50, 38.39,
             37.98, 38.07, 38.18, 38.20, 38.80, 39.10, 38.74, 38.60, 38.39, 38.67,
             38.88, 39.16, 39.52, 39.57, 40.03, 40.29, 40.42, 40.19, 40.49, 40.54,
             40.49, 40.44, 40.40, 40.19, 40.44, 40.06, 40.34, 40.03, 39.88, 39.98,
             39.90, 39.77, 40.29, 40.77, 40.93, 41.16, 41.11, 40.44, 40.54, 40.51]
XLU_HIGH = [39.35, 39.28, 39.45, 38.95, 39.15, 39.20, 39.12, 39.45, 39.62, 39.08,
            39.00, 38.95, 39.15, 39.30, 39.40, 39.48, 39.35, 38.95, 38.75, 38.70,
            38.70, 38.55, 38.20, 38.25, 38.15, 38.25, 38.35, 38.20, 38.52, 38.50,
            38.25, 37.80, 37.65, 37.75, 37.78, 37.90, 38.20, 38.00, 37.95, 37.90,
            37.88, 37.95, 37.95, 37.95, 38.00, 37.90, 37.50, 37.40, 37.70, 37.60,
            37.70, 38.45, 38.25, 37.95, 38.00, 38.10, 38.12, 38.50, 38.58, 38.50,
            38.45, 38.15, 38.20, 38.25, 38.85, 39.20, 39.60, 38.80, 38.50, 38.70,
            38.95, 39.25, 39.65, 39.60, 40.05, 40.30, 40.60, 40.55, 40.95, 40.90,
            40.65, 40.85, 40.60, 40.50, 40.55, 40.40, 40.50, 40.35, 40.05, 40.05,
            40.00, 39.90, 40.30, 40.80, 41.00, 41.20, 41.25, 41.15, 40.60, 40.90]
XLU_LOW = [38.90, 39.05, 38.80, 38.30, 38.85, 38.95, 38.75, 39.00, 38.90, 38.80,
           38.85, 38.35, 38.65, 38.85, 39.00, 39.15, 38.70, 38.55, 38.50, 38.55,
           38.45, 38.00, 37.95, 37.80, 37.65, 37.80, 38.00, 37.85, 38.00, 38.05,
           37.75, 37.45, 37.45, 37.40, 37.50, 37.20, 37.75, 37.70, 37.60, 37.60,
           37.65, 37.65, 37.70, 37.75, 37.85, 37.30, 37.15, 37.25, 37.30, 37.35,
           37.40, 37.90, 37.80, 37.80, 37.75, 37.85, 37.95, 38.00, 38.40, 38.30,
           37.90, 37.95, 38.00, 38.15, 38.55, 38.80, 38.70, 38.55, 38.30, 38.35,
           38.60, 38.90, 39.20, 39.35, 39.70, 40.00, 40.10, 40.15, 40.30, 40.40,
           40.35, 40.20, 40.05, 40.05, 40.25, 39.85, 40.00, 39.70, 39.55, 39.85,
           39.65, 39.70, 39.70, 40.25, 40.50, 40.80, 40.90, 40.40, 40.05, 40.35]
XLU_MA50 = [37.63, 37.75, 37.96, 38.16, 38.31, 38.33, 38.38, 38.43, 38.43, 38.34, 38.23,
            38.15, 38.08, 38.02, 38.01, 38.20, 38.46, 38.74, 38.93, 39.15, 39.43]
XLU_MA200 = [38.16, 38.31, 38.42, 38.48, 38.49, 38.48, 38.44, 38.37, 38.29, 38.29, 38.40]
XLU_RS = [-5.99, -6.54, -6.54, -6.54, -6.15, -6.15, -6.54, -5.88, -5.33, -6.70,
          -6.87, -7.09, -7.42, -7.09, -6.87, -6.54, -7.09, -7.80, -8.35, -8.74,
          -9.07, -9.73, -10.00, -10.00, -9.29, -8.63, -8.90, -8.63, -8.90, -9.29,
          -9.73, -9.45, -9.07, -8.90, -9.07, -9.07, -9.29, -9.73, -10.38, -10.82,
          -11.26, -10.55, -10.82, -10.38, -10.71, -10.55, -10.93, -11.26, -10.82, -10.38,
          -10.71, -10.00, -8.90, -9.45, -10.16, -9.45, -9.07, -8.63, -8.08, -7.53,
          -6.43, -5.77, -5.60, -5.05, -4.23, -3.02, -1.21, -2.47, -2.86, -3.57,
          -3.02, -3.02, -2.86, -2.47, -2.14, -1.92, -1.76, -1.48, -1.21, -0.93,
          -1.76, -1.76, -2.03, -2.58, -2.31, -3.02, -3.68, -4.23, -3.96, -4.12,
          -3.57, -2.03, -0.11, 0.27, 0.27, -0.49, -1.37, -1.92, -1.76, -1.76]
XLU_YTICKS = [37.5, 38.0, 38.5, 39.0, 39.5, 40.0, 40.5, 41.0]
XLU_RSTICKS = [-10.0, -5.0, 0.0]

SYMBOLS = ['XLF', 'XLY', 'XLK', 'XLI', 'XLB', 'XLE', 'XLP', 'XLV', 'XLU']
NAMES = ['Financials', 'Consumer Discretionary', 'Technology', 'Industrials',
         'Basic Materials', 'Energy', 'Consumer Staples', 'Health Care', 'Utilities']
LAST = ['22.40', '65.68', '36.31', '51.65', '47.37', '87.06', '42.50', '58.18', '40.51']
CHANGE = ['-0.08', '-0.63', '-0.34', '-0.22', '-0.39', '-0.19', '-0.24', '-1.28', '-0.03']
DATE_RANGE = '10/28/13 - 3/21/14'

# ---------------------------------------------------------------- layout / style
W, H = 1468, 1336
CELL_X = [0, 490, 981]
CELL_Y = [0, 445, 890]
PX_L, PX_R = 2.0, 427.5
PR_T, PR_B = 26.0, 315.0
RS_T, RS_B = 316.0, 408.0
XLO = -1.17
PPB = 4.007
XHI = XLO + (PX_R - PX_L) / PPB

PRICE_LIM = {'XLF': (19.21, 22.83), 'XLY': (55.96, 68.49), 'XLK': (31.06, 37.07),
             'XLI': (43.30, 53.79), 'XLB': (40.15, 48.70), 'XLE': (80.34, 89.01),
             'XLP': (39.80, 43.67), 'XLV': (47.78, 61.21), 'XLU': (37.07, 41.51)}
PRICE_STEP = {'XLF': 0.1, 'XLY': 0.2, 'XLK': 0.1, 'XLI': 0.2, 'XLB': 0.2,
              'XLE': 0.2, 'XLP': 0.1, 'XLV': 0.5, 'XLU': 0.1}
RS_LIM = {'XLF': (-1.42, 0.72), 'XLY': (-1.55, 5.30), 'XLK': (-1.62, 3.31),
          'XLI': (0.58, 5.15), 'XLB': (-1.80, 4.60), 'XLE': (-4.87, -0.30),
          'XLP': (-6.64, -0.41), 'XLV': (-0.28, 7.33), 'XLU': (-12.03, 3.02)}
RS_STEP = {'XLF': 0.25, 'XLY': 0.5, 'XLK': 0.5, 'XLI': 0.5, 'XLB': 0.5,
           'XLE': 0.5, 'XLP': 0.5, 'XLV': 0.5, 'XLU': 1.0}

C_UP = '#1f9e1f'
C_DN = '#e60000'
C_CLOSE = '#1b1b78'
C_MA50 = '#2424d8'
C_MA200 = '#f02020'
C_RS = '#358a35'
C_HIST = '#6cb06c'
C_GRID = '#e2e2e2'
C_GRID_MAJ = '#d2d2d2'
C_SEP = '#8a8a8a'

g = globals()
dates = pd.bdate_range('2013-10-28', '2014-03-21', freq='C', holidays=HOLIDAYS)
N = len(dates)
month_starts = [i for i in range(1, N) if dates[i].month != dates[i - 1].month]
week_starts = [i for i in range(1, N) if dates[i].isocalendar()[1] != dates[i - 1].isocalendar()[1]]
year_start = [i for i in range(1, N) if dates[i].year != dates[i - 1].year][0]

fig = plt.figure(figsize=(W / 100, H / 100), dpi=100)
fig.patch.set_facecolor('white')


def px_axes(x, y, w, h):
    return fig.add_axes([x / W, 1 - (y + h) / H, w / W, h / H])


ov = fig.add_axes([0, 0, 1, 1])
ov.set_xlim(0, W)
ov.set_ylim(H, 0)
ov.axis('off')
ov.set_zorder(10)
ov.patch.set_alpha(0)


def idx_px(cx, i):
    return cx + PX_L + (i - XLO) * PPB


def grid_levels(lo, hi, step):
    start = np.ceil(lo / step - 1e-6) * step
    return np.arange(start, hi + 1e-9, step)


def style_axes(ax, lo, hi, ticks):
    ax.set_xlim(XLO, XHI)
    ax.set_ylim(lo, hi)
    for s in ax.spines.values():
        s.set_visible(False)
    ax.set_xticks([])
    ax.yaxis.tick_right()
    ax.set_yticks(ticks)
    ax.set_yticklabels(['%.2f' % t for t in ticks], fontsize=8)
    ax.tick_params(axis='y', length=0, pad=4.5, labelcolor='#111111')
    ax.set_facecolor('white')


def draw_cell(k):
    sym = SYMBOLS[k]
    col, row = k % 3, k // 3
    cx, cy = CELL_X[col], CELL_Y[row]
    close = np.array(g[sym + '_CLOSE'])
    high = np.maximum(np.array(g[sym + '_HIGH']), close)
    low = np.minimum(np.array(g[sym + '_LOW']), close)
    rs = np.array(g[sym + '_RS'])
    x = np.arange(len(close))

    # ---- price panel
    lo, hi = PRICE_LIM[sym]
    ax = px_axes(cx + PX_L, cy + PR_T, PX_R - PX_L, PR_B - PR_T)
    ticks = g[sym + '_YTICKS']
    style_axes(ax, lo, hi, ticks)
    gtop = lo + 0.942 * (hi - lo)
    for v in grid_levels(lo, gtop, PRICE_STEP[sym]):
        is_major = any(abs(v - t) < 1e-6 for t in ticks)
        ax.axhline(v, color=C_GRID_MAJ if is_major else C_GRID, lw=0.7, zorder=0)
    ax.vlines(year_start - 0.5, lo, gtop, color='#d8d8d8', lw=0.8, zorder=0)
    ax.plot(MA200_IDX, g[sym + '_MA200'], color=C_MA200, lw=1.0, zorder=2)
    ax.plot(MA50_IDX, g[sym + '_MA50'], color=C_MA50, lw=1.0, zorder=2)
    cols = [C_UP if (i == 0 and close[0] >= (high[0] + low[0]) / 2) or (i > 0 and close[i] >= close[i - 1])
            else C_DN for i in range(len(close))]
    ax.vlines(x, low, high, colors=cols, lw=0.9, zorder=3)
    ax.plot(x, close, color=C_CLOSE, lw=0.85, zorder=4)
    ax.plot(x, close, ls='none', marker='s', ms=1.1, color='black', mew=0, zorder=5)

    # ---- RS panel
    rlo, rhi = RS_LIM[sym]
    ra = px_axes(cx + PX_L, cy + RS_T, PX_R - PX_L, RS_B - RS_T)
    rticks = g[sym + '_RSTICKS']
    style_axes(ra, rlo, rhi, rticks)
    gt = rlo + 0.828 * (rhi - rlo)
    gb = rlo + 0.036 * (rhi - rlo)
    for v in grid_levels(gb, gt, RS_STEP[sym]):
        ra.axhline(v, color=C_GRID, lw=0.7, zorder=0)
    ra.vlines(year_start - 0.5, gb, gt, color='#d8d8d8', lw=0.8, zorder=0)
    if rlo < 0 < rhi:
        ra.axhline(0, color='#8f8f8f', lw=0.9, zorder=1)
    base = min(max(0.0, gb), gt)
    ra.vlines(x, base, rs, color=C_HIST, lw=0.75, zorder=2)
    ra.plot(x, rs, color=C_RS, lw=1.1, zorder=3)

    # ---- overlay: frame, labels, date axis
    title = f'{sym}    {NAMES[k]}       {DATE_RANGE}       {LAST[k]}   {CHANGE[k]}'
    ov.text(cx + 240, cy + 13, title, ha='center', va='center', fontsize=8.4, color='#111111')
    ov.hlines(cy + 25.5, cx, cx + 489, color=C_SEP, lw=0.8)
    ov.hlines(cy + 315.5, cx, cx + 489, color=C_SEP, lw=0.8)
    ov.hlines(cy + 408.5, cx, cx + 489, color=C_SEP, lw=0.8)
    ov.hlines(cy + 421.5, cx, cx + PX_R, color=C_SEP, lw=0.8)
    ov.vlines(cx + PX_R, cy + 25.5, cy + 431, color=C_SEP, lw=0.8)
    # right-axis minor ticks
    for v in grid_levels(lo, gtop, PRICE_STEP[sym]):
        yy = cy + PR_T + (hi - v) / (hi - lo) * (PR_B - PR_T)
        ov.hlines(yy, cx + PX_R - 2.5, cx + PX_R, color='#777777', lw=0.6)
    ov.plot([cx + 482], [cy + 32], marker='v', ms=3.5, color='black', mew=0)
    ov.plot([cx + 482], [cy + 321], marker='v', ms=3.5, color='black', mew=0)
    ov.plot([cx + 482], [cy + 414], marker='v', ms=3.5, color='black', mew=0)
    ov.text(cx + 6, cy + 323, 'RS Mansfield Daily', ha='left', va='center', fontsize=8, color='#111111')
    ov.text(cx + 456, cy + 419.5, 'Daily', ha='center', va='center', fontsize=8, color='#111111')
    # date ticks
    for i in range(N):
        ov.vlines(idx_px(cx, i), cy + 406.5, cy + 408.5, color='#666666', lw=0.6)
    for i in week_starts:
        ov.vlines(idx_px(cx, i), cy + 404.5, cy + 408.5, color='#666666', lw=0.6)
    for m, lab in zip(month_starts, MONTH_LABELS):
        xm = idx_px(cx, m - 0.5)
        ov.vlines(xm, cy + 408.5, cy + 421.5, color=C_SEP, lw=0.8)
        ov.text(xm + 2.5, cy + 415, lab, ha='left', va='center', fontsize=8, color='#111111')
    xy = idx_px(cx, year_start - 0.5)
    ov.vlines(xy, cy + 421.5, cy + 431, color=C_SEP, lw=0.8)
    ov.text(cx + 4, cy + 426.5, YEAR_LABELS[0], ha='left', va='center', fontsize=8, color='#111111')
    ov.text(xy + 2.5, cy + 426.5, YEAR_LABELS[1], ha='left', va='center', fontsize=8, color='#111111')
    # bottom strip with scroller pill
    ov.add_patch(Rectangle((cx, cy + 431), 490, 14, facecolor='#eeeeee', edgecolor='none', zorder=0))
    ov.hlines(cy + 431, cx, cx + 489, color='#d0d0d0', lw=0.6)
    ov.add_patch(FancyBboxPatch((cx + 473, cy + 435), 14, 6, boxstyle='round,pad=0,rounding_size=3',
                                facecolor='#c8c8c8', edgecolor='none'))


for k in range(9):
    draw_cell(k)

# cell separators
ov.vlines([490.5, 980.5], 0, H, color='#9a9a9a', lw=0.8)
ov.hlines([445.5, 890.5], 0, W, color='#9a9a9a', lw=0.8)
# red arrow icon in the first cell
ov.add_patch(FancyArrow(5, 12.5, 13, 0, width=4.5, head_width=10, head_length=6.5,
                        length_includes_head=True, color='#e2452f'))

fig.savefig('out.png', dpi=100, facecolor='white')
